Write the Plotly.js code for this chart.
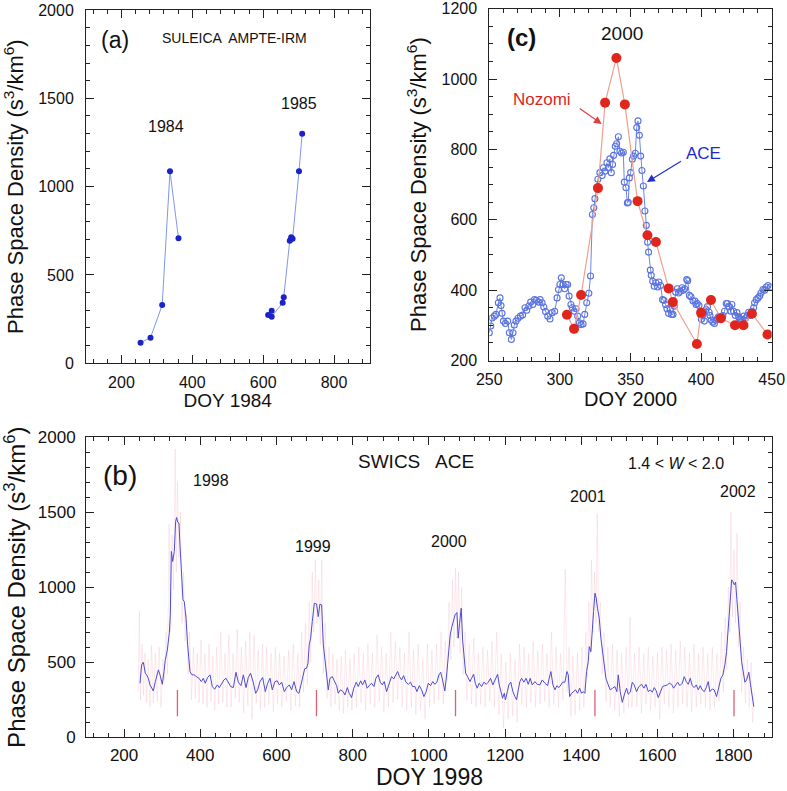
<!DOCTYPE html>
<html><head><meta charset="utf-8">
<script src="https://cdn.plot.ly/plotly-3.0.1.min.js"></script>
<style>html,body{margin:0;padding:0;background:#fff}#chart{width:787px;height:791px}</style>
</head><body><div id="chart"></div>
<script>
// ---------- Panel (a): SULEICA AMPTE-IRM ----------
const a1984Doy = [254, 282, 315, 337, 361];
const a1984Psd = [117, 145, 330, 1087, 708];
const a1985Doy = [614, 624, 624, 655, 658, 675, 679, 683, 701, 710];
const a1985Psd = [273, 298, 264, 343, 374, 694, 713, 705, 1087, 1300];

// ---------- Panel (c): DOY 2000, Nozomi and ACE ----------
const nozDoy = [305, 310, 315, 327, 332, 340, 346, 355, 362, 368, 377, 380, 397, 400, 407, 414, 424, 430, 436, 447];
const nozPsd = [330, 290, 386, 690, 933, 1060, 928, 653, 556, 537, 405, 366, 247, 336, 372, 320, 300, 300, 333, 274];
const aceDoy = [250,251,252,253.6,254.7,256.4,257.6,258.3,259,260,261.4,263,264.2,265.6,266.8,267.7,268.9,270.3,272,273.6,275.3,276.5,278,279.3,280.8,282,283.3,284.8,286,287.4,288.6,289.8,291.4,293,294.5,296.3,298,299,300,301,302.3,303.4,304.4,305.5,306.5,307.8,308.8,310.2,311.4,312.6,313.8,315,316.4,317.6,319,320.5,321.7,
 323,324,324.8,326,326.9,328.3,329.9,330.7,331.9,333.3,334.3,335.4,336.4,337.3,338,339.2,340.2,341.4,342.5,343.7,344.9,345.6,346.8,347.8,348.4,349.2,350.1,351.3,352.2,353.4,354.4,355.3,356.3,357.2,358.1,359.1,360.2,361.2,362.1,362.8,364,364.7,365.7,366.8,368,369.2,370.1,371.3,372.7,373.7,374.8,375.8,377,378.2,379.1,380.1,381,382,383.2,384.1,385.3,386.5,387.4,388.4,389.8,390.5,391.7,392.8,394.3,395.7,396.4,397.3,398.5,399.5,400.2,401.4,402.3,403.5,404.5,405.7,406.3,407.1,408.3,409.5,410.4,411.6,412.3,413.5,414.2,415.4,416.6,417.8,418.7,419.9,421.1,421.8,423,424.2,425.4,426.6,427.3,428.3,429.5,430.2,431.6,432.8,433.7,434.9,436.1,437.2,437.9,439.1,440.3,441.5,442.4,443.8,445,446.2,447.4,449];
const acePsd = [279,298,321,326,331,364,378,356,334,312,305,312,279,260,279,301,312,320,326,329,350,343,355,366,359,373,371,366,373,364,352,339,326,318,336,340,378,402,416,435,416,404,416,416,383,359,350,340,347,326,307,302,304,331,364,391,440,
 615,634,660,691,715,734,726,748,738,762,748,773,734,757,783,809,816,836,795,790,792,707,691,648,650,719,734,772,781,789,862,881,840,781,740,696,625,584,536,508,457,442,425,411,421,409,423,413,373,371,359,347,334,345,331,331,354,394,404,392,397,407,400,404,430,427,385,381,369,369,359,362,356,331,317,331,312,345,353,337,328,315,309,305,315,319,324,317,319,328,340,362,362,353,340,359,340,328,336,324,319,317,315,326,321,328,337,328,340,350,364,373,378,383,392,402,400,409,413,409];

// ---------- Panel (b): SWICS ACE, DOY 1998 ----------
const bSmoothDoy = [241.7,246,250.5,255.7,259,263.6,268,272.4,276.7,282,290,294.2,300.4,304.7,308.2,313.5,318.7,321.3,324,327.5,331.8,335.3,338,340.6,344,346.7,351,354.6,358,362.5,366.8,373,378,384,390,396.6,402.7,408,413,419,425.5,431.6,437.7,444.7,450,456,462,467.5,473.6,479.7,486.7,493.7,499.8,506.8,513,520,526,532,539,545.3,550.6,556.7,563.7,570.7,576.8,583,589,596,602,607.5,613.6,620.6,626.7,633.7,639.8,646,653,659,664.3,668.7,674,679,682.7,686,689.7,694,699.3,
 705.4,709.7,714,718.5,723,727,731.6,736,740.4,746.5,751.7,758,762,768,775,779.7,786,791,797,803,809.5,814.7,821,826,832,838,843.6,849.7,855.9,861,867,872.5,877.7,883,889,895,902,908,913.6,918,923,928.5,933.7,939.8,946,952,957,963.5,968.7,975,981,987,993,998.5,1004.6,1010,1016,1021,1026.5,1031,1036,1042,1047.5,1052,1056,1060.6,1065,1069,1073.7,1077,1080.7,1085,1088.6,1092,1096.5,1101.7,1108,1112,1117.5,1121.8,1127,1132,1138.5,1144.6,1150.7,1156,1162,1168,1175,1180.5,1184.8,1189,1193.6,1198,1201,1206,1210,1215,1220.7,1226,1230.3,1234.7,1239,1243.4,1249.6,1255,1261,1266,1271.4,1278.4,1284.6,1291.6,1297.7,
 1304.7,1311.7,1318,1320.4,1325.7,1331,1336.2,1341.4,1346.7,1351,1357.2,1362.4,1366,1369.5,1374.7,1380,1385.2,1390.4,1395.7,1401,1405.3,1409.7,1414,1418.5,1421,1425.4,1429,1432.4,1436,1439.4,1442.7,1447.3,1451.7,1456,1460.4,1464.8,1470.9,1476,1482.3,1488.4,1493.7,1497.2,1502.4,1507.7,1513,1519,1523.4,1528.7,1534,1539,1545.3,1551.4,1558.4,1564.5,1570,1576,1581.2,1586.4,1591.7,1597,1602.2,1607.4,1613.5,1619.7,1625.8,1631,1637.2,1642.4,1647.7,1653,1659,1665.2,1670.4,1675.7,1681,1686.2,1691.4,1696.7,1702,1707.2,1712.4,1717.6,1723,1728.2,1733.4,1737.8,1744,1749.1,1755.3,1761.4,1766.6,1771.9,1777.1,1781.5,1786,1790.3,1794.9,1798,1801.7,1805.2,1808.7,1812.2,1816.5,1821,1825.3,1829.6,1834,1840,1844.5,1848.8,1853];
const bSmoothPsd = [360,482,500,427,416,393,349,327,309,371,449,416,353,438,516,582,693,816,1238,1171,1238,1438,1464,1433,1427,1282,1060,916,904,793,616,438,416,416,404,393,371,393,360,398,416,338,320,349,331,360,382,393,367,338,331,433,367,344,416,331,398,427,367,293,316,371,398,304,360,393,316,371,376,349,367,304,331,349,316,371,304,293,349,393,456,460,493,616,660,771,893,
 887,804,887,882,616,527,393,316,393,404,376,344,293,316,304,282,331,293,264,327,367,338,376,349,382,327,344,360,338,393,416,367,349,371,304,349,404,389,416,438,404,382,411,367,353,367,338,338,304,344,316,271,304,360,344,371,353,367,416,433,382,309,438,593,682,738,776,816,831,660,760,860,649,527,427,404,371,393,420,360,327,360,338,367,353,367,393,349,393,420,349,304,260,293,249,304,349,367,304,271,249,316,371,393,367,393,353,393,349,371,353,349,382,
 360,344,416,438,349,316,344,331,349,367,367,438,416,271,293,304,316,293,327,293,304,293,438,504,604,571,682,838,960,927,860,793,660,571,504,393,349,316,327,338,304,416,304,233,282,327,287,300,367,349,304,338,353,327,353,304,316,300,331,309,264,300,338,344,349,360,353,327,349,367,344,360,404,371,353,393,344,331,349,316,344,316,304,331,371,304,322,316,271,344,393,416,482,571,704,882,1049,1038,1016,1033,916,816,660,504,416,367,382,433,349,260,204];
const bRawDoy = [237,240,243,247,251,255,259,263,268,272,277,282,287,292,297,302,306,310,314,318,322,326,330,334,337,340,344,348,352,356,360,364,368,372,377,382,387,392,397,402,407,412,418,423,428,433,438,443,448,454,459,465,470,475,481,486,492,497,502,508,514,519,525,530,536,541,547,552,558,563,569,574,580,586,592,597,603,608,614,620,626,632,638,644,650,656,661,666,671,676,681,686,690,694,698,702,706,711,715,719,723,728,733,738,743,748,754,759,765,770,776,781,787,793,798,804,810,816,822,828,834,840,846,852,858,864,870,876,882,888,894,900,906,912,918,924,930,936,942,948,954,960,966,972,978,984,990,996,1002,1008,1014,1020,1026,1032,1038,1043,1048,1053,1058,1062,1066,1070,1074,1078,1082,1086,1090,1095,1100,1106,1112,1118,1124,1130,1136,1142,1148,1154,1160,1166,1172,1178,1184,1190,1196,1202,1208,1214,1220,1226,1232,1238,1244,1250,1256,1262,1268,1274,1280,1286,1292,1298,1304,1310,1316,1322,1328,1334,1340,1346,1352,1358,1363,1368,1373,1378,1384,1390,1396,1402,1407,1412,1416,1420,1424,1427,1431,1435,1439,1442,1446,1450,1455,1460,1465,1470,1476,1482,1488,1494,1500,1506,1512,1518,1524,1528,1533,1540,1546,1552,1558,1564,1570,1576,1582,1588,1594,1600,1606,1612,1618,1624,1630,1636,1642,1648,1654,1660,1666,1672,1678,1684,1690,1696,1702,1708,1714,1720,1726,1732,1738,1744,1750,1756,1762,1768,1773,1778,1782,1786,1790,1793,1797,1801,1805,1809,1813,1817,1821,1826,1831,1836,1841,1846,1850,1854];
const bRawPsd = [300,840,250,620,280,560,230,520,200,610,230,560,240,600,200,520,380,700,420,1420,700,1350,980,1920,1100,1700,1200,1500,760,1100,640,820,420,700,250,600,260,560,230,650,220,560,200,620,240,540,180,600,220,700,230,560,200,680,200,560,260,720,230,600,160,640,210,700,120,680,230,580,180,620,200,600,220,560,170,600,220,560,200,540,240,580,180,620,210,560,200,700,300,760,350,900,500,1100,700,1180,760,1050,620,1180,420,760,260,600,200,560,220,520,180,540,160,580,200,520,180,560,200,600,230,560,180,620,220,560,200,680,240,600,170,560,200,700,230,640,250,600,200,560,180,700,200,580,150,620,180,520,120,620,200,580,220,620,250,700,220,640,380,900,520,1050,600,1130,660,1100,560,1000,420,700,250,620,220,660,200,560,220,600,200,580,240,640,200,700,150,560,60,500,120,560,140,520,100,620,220,600,200,560,230,640,200,580,220,620,240,560,200,700,220,600,200,560,250,1120,300,600,140,540,150,560,180,600,200,700,400,900,560,1180,700,1100,760,1490,700,900,420,700,240,600,200,620,180,580,140,560,160,600,200,800,200,560,200,600,160,560,220,600,180,540,200,560,120,600,220,580,200,620,160,580,200,640,220,600,200,560,170,620,200,560,220,600,200,560,180,600,200,560,240,700,300,800,450,1000,700,1500,800,1250,760,1360,600,900,300,600,230,520,200,500,100,300];
const bMarkDoy = [340, 705, 1070, 1436, 1801];
const bMarkLow = [140, 140, 140, 140, 140];
const bMarkHigh = [315, 315, 315, 315, 315];

// tick labels
const aXTicks = [200, 400, 600, 800];
const aYTicks = [0, 500, 1000, 1500, 2000];
const cXTicks = [250, 300, 350, 400, 450];
const cYTicks = [200, 400, 600, 800, 1000, 1200];
const bXTicks = [200, 400, 600, 800, 1000, 1200, 1400, 1600, 1800];
const bYTicks = [0, 500, 1000, 1500, 2000];

const W = 787, H = 791;
const px = v => v / W, py = v => 1 - v / H;
const FONT = 'Liberation Sans, Arial, Helvetica, sans-serif';
const YT = 'Phase Space Density (s<sup>3</sup>/km<sup>6</sup>)';

function markLines() {
  const xs = [], ys = [];
  bMarkDoy.forEach((d, i) => { xs.push(d, d, null); ys.push(bMarkLow[i], bMarkHigh[i], null); });
  return {xs, ys};
}
const ml = markLines();

const traces = [
  {x: a1984Doy, y: a1984Psd, xaxis: 'x', yaxis: 'y', mode: 'lines+markers', type: 'scatter',
   line: {color: '#7f98e6', width: 1}, marker: {color: '#1a22c8', size: 6}},
  {x: a1985Doy, y: a1985Psd, xaxis: 'x', yaxis: 'y', mode: 'lines+markers', type: 'scatter',
   line: {color: '#7f98e6', width: 1}, marker: {color: '#1a22c8', size: 6}},
  {x: aceDoy, y: acePsd, xaxis: 'x2', yaxis: 'y2', mode: 'lines+markers', type: 'scatter',
   line: {color: '#6f86e6', width: 1}, marker: {color: 'rgba(255,255,255,0)', size: 6, line: {color: '#5a74e0', width: 1.1}}},
  {x: nozDoy, y: nozPsd, xaxis: 'x2', yaxis: 'y2', mode: 'lines+markers', type: 'scatter',
   line: {color: '#f0a08c', width: 1.2}, marker: {color: '#e0261c', size: 10}},
  {x: bRawDoy, y: bRawPsd, xaxis: 'x3', yaxis: 'y3', mode: 'lines', type: 'scatter',
   line: {color: 'rgba(240,160,178,0.22)', width: 1}},
  {x: bSmoothDoy, y: bSmoothPsd, xaxis: 'x3', yaxis: 'y3', mode: 'lines', type: 'scatter',
   line: {color: '#4a4ed2', width: 1}},
  {x: ml.xs, y: ml.ys, xaxis: 'x3', yaxis: 'y3', mode: 'lines', type: 'scatter',
   line: {color: '#e06070', width: 1.3}}
];

const MINOR = {ticks: 'inside', ticklen: 4, tickwidth: 1, tickcolor: '#222', showgrid: false, tick0: 0};
function ax(opts) {
  return Object.assign({
    showline: true, mirror: 'allticks', linecolor: '#222', linewidth: 1,
    ticks: 'inside', ticklen: 8, tickwidth: 1, tickcolor: '#222',
    showgrid: false, zeroline: false, tickmode: 'array',
    tickfont: {family: FONT, size: 16, color: '#111'},
    fixedrange: true
  }, opts);
}

const layout = {
  width: W, height: H, margin: {l: 0, r: 0, t: 0, b: 0},
  paper_bgcolor: '#fff', plot_bgcolor: '#fff', showlegend: false,
  font: {family: FONT, color: '#111'},
  xaxis: ax({domain: [px(86), px(369.5)], range: [100, 900], anchor: 'y',
    tickvals: aXTicks, minor: Object.assign({dtick: 40}, MINOR), ticklabelstandoff: 4,
    title: {text: 'DOY 1984', font: {family: FONT, size: 19, color: '#111'}, standoff: 4}}),
  yaxis: ax({domain: [py(363.3), py(10)], range: [0, 2000], anchor: 'x',
    tickvals: aYTicks, minor: Object.assign({dtick: 100}, MINOR), ticklabelstandoff: 8,
    title: {text: YT, font: {family: FONT, size: 22, color: '#111'}, standoff: 8}}),
  xaxis2: ax({domain: [px(489.3), px(771.7)], range: [250, 450], anchor: 'y2',
    tickvals: cXTicks, minor: Object.assign({dtick: 10}, MINOR), ticklabelstandoff: 4,
    title: {text: 'DOY 2000', font: {family: FONT, size: 20, color: '#111'}, standoff: 4}}),
  yaxis2: ax({domain: [py(360.5), py(8.7)], range: [200, 1200], anchor: 'x2',
    tickvals: cYTicks, minor: Object.assign({dtick: 50}, MINOR), ticklabelstandoff: 8,
    title: {text: YT, font: {family: FONT, size: 22, color: '#111'}, standoff: 8}}),
  xaxis3: ax({domain: [px(86), px(771.7)], range: [100, 1900], anchor: 'y3',
    tickvals: bXTicks, minor: Object.assign({dtick: 40}, MINOR),
    tickfont: {family: FONT, size: 17, color: '#111'}, ticklabelstandoff: 2}),
  yaxis3: ax({domain: [py(737.3), py(437)], range: [0, 2000], anchor: 'x3',
    tickvals: bYTicks, minor: Object.assign({dtick: 100}, MINOR),
    tickfont: {family: FONT, size: 17, color: '#111'}, ticklabelstandoff: 6,
    title: {text: YT, font: {family: FONT, size: 24, color: '#111'}, standoff: 6}}),
  annotations: [
    {text: '(a)', x: px(115), y: py(40), font: {size: 23}},
    {text: 'SULEICA  AMPTE-IRM', x: px(235), y: py(38), font: {size: 14}},
    {text: '1984', x: px(166), y: py(127), font: {size: 16}},
    {text: '1985', x: px(299), y: py(103), font: {size: 16}},
    {text: '<b>(c)</b>', x: px(521.7), y: py(38), font: {size: 24}},
    {text: '2000', x: px(621.7), y: py(33.3), font: {size: 19}},
    {text: 'Nozomi', x: px(541.7), y: py(100), font: {size: 17, color: '#d8281e'}},
    {text: 'ACE', x: px(703.3), y: py(153), font: {size: 17, color: '#1c2ad0'}},
    {text: ' ', x: px(601.7), y: py(124), showarrow: true, ax: -24, ay: -17, arrowhead: 2, arrowsize: 1.3, arrowwidth: 1.2, arrowcolor: '#e04040', font: {size: 2}},
    {text: ' ', x: px(647), y: py(182), showarrow: true, ax: 36, ay: -22, arrowhead: 2, arrowsize: 1.3, arrowwidth: 1.2, arrowcolor: '#2030c8', font: {size: 2}},
    {text: '(b)', x: px(120), y: py(475), font: {size: 28}},
    {text: '1998', x: px(211), y: py(480), font: {size: 16}},
    {text: 'SWICS   ACE', x: px(416), y: py(461.7), font: {size: 19}},
    {text: '1.4 &lt; <i>W</i> &lt; 2.0', x: px(676), y: py(463.3), font: {size: 16}},
    {text: '1999', x: px(313), y: py(546), font: {size: 16}},
    {text: '2000', x: px(449.3), y: py(541.7), font: {size: 16}},
    {text: '2001', x: px(588.3), y: py(496.7), font: {size: 16}},
    {text: '2002', x: px(738.3), y: py(491.7), font: {size: 16}},
    {text: 'DOY 1998', x: px(429), y: py(790.5), yanchor: 'bottom', borderpad: 0, font: {size: 23}}
  ].map(a => Object.assign({xref: 'paper', yref: 'paper', showarrow: false, xanchor: 'center', yanchor: 'middle'}, a,
      {font: Object.assign({family: FONT, color: '#111'}, a.font || {})}))
};

Plotly.newPlot('chart', traces, layout, {staticPlot: true, displayModeBar: false});
</script>
</body></html>
